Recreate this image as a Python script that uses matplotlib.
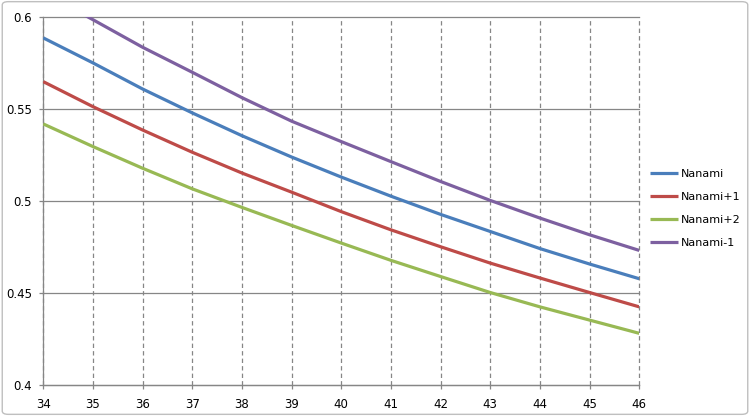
import matplotlib
matplotlib.use("Agg")
import matplotlib.pyplot as plt
from matplotlib.patches import FancyBboxPatch

x = [34, 35, 36, 37, 38, 39, 40, 41, 42, 43, 44, 45, 46]
nanami = [0.5888, 0.5752, 0.5610, 0.5480, 0.5356, 0.5240, 0.5131, 0.5027, 0.4928, 0.4835, 0.4742, 0.4658, 0.4578]
nanami_p1 = [0.5650, 0.5514, 0.5387, 0.5266, 0.5153, 0.5049, 0.4943, 0.4844, 0.4752, 0.4663, 0.4582, 0.4503, 0.4425]
nanami_p2 = [0.5420, 0.5297, 0.5179, 0.5067, 0.4966, 0.4868, 0.4772, 0.4678, 0.4590, 0.4503, 0.4425, 0.4353, 0.4281]
nanami_m1 = [0.6135, 0.5987, 0.5837, 0.5701, 0.5563, 0.5435, 0.5324, 0.5215, 0.5107, 0.5004, 0.4908, 0.4817, 0.4732]
labels = ["Nanami", "Nanami+1", "Nanami+2", "Nanami-1"]
colors = ["#4A7EBB", "#BE4B48", "#98B954", "#7D60A0"]
yticks = [0.4, 0.45, 0.5, 0.55, 0.6]
ytick_labels = ["0.4", "0.45", "0.5", "0.55", "0.6"]

fig = plt.figure(figsize=(7.5, 4.16), dpi=100)
fig.patch.set_facecolor("white")
border = FancyBboxPatch((0.003, 0.004), 0.994, 0.992, boxstyle="round,pad=0,rounding_size=0.008",
                        transform=fig.transFigure, facecolor="none", edgecolor="#BFBFBF", linewidth=1.0,
                        zorder=10)
fig.patches.append(border)

ax = fig.add_axes([0.0577, 0.0745, 0.7947, 0.8839])
ax.set_facecolor("none")
for series, lab, c in zip([nanami, nanami_p1, nanami_p2, nanami_m1], labels, colors):
    ax.plot(x, series, color=c, linewidth=2.3, label=lab, solid_capstyle="butt", zorder=3)

ax.set_xlim(34, 46)
ax.set_ylim(0.4, 0.6)
ax.set_xticks(x)
ax.set_xticklabels([str(v) for v in x])
ax.set_yticks(yticks)
ax.set_yticklabels(ytick_labels)
ax.grid(axis="y", color="#868686", linewidth=0.9, linestyle="-", zorder=1)
ax.grid(axis="x", color="#868686", linewidth=0.9, linestyle=(0, (3.5, 2.5)), zorder=1)
for gl in ax.get_xgridlines() + ax.get_ygridlines():
    gl.set_clip_on(False)
for s in ["top", "right"]:
    ax.spines[s].set_visible(False)
for s in ["left", "bottom"]:
    ax.spines[s].set_color("#868686")
    ax.spines[s].set_linewidth(0.9)
ax.tick_params(axis="both", direction="out", length=3, width=0.9, color="#868686",
               labelsize=8.5, labelcolor="black")
ax.tick_params(axis="x", pad=6)
ax.tick_params(axis="y", pad=5)

leg = ax.legend(loc="center left", bbox_to_anchor=(0.866, 0.499), bbox_transform=fig.transFigure,
                frameon=False, fontsize=8, handlelength=2.6, handletextpad=0.2, labelspacing=1.15,
                borderaxespad=0, borderpad=0)

fig.savefig("out.png", dpi=100, facecolor="white")
